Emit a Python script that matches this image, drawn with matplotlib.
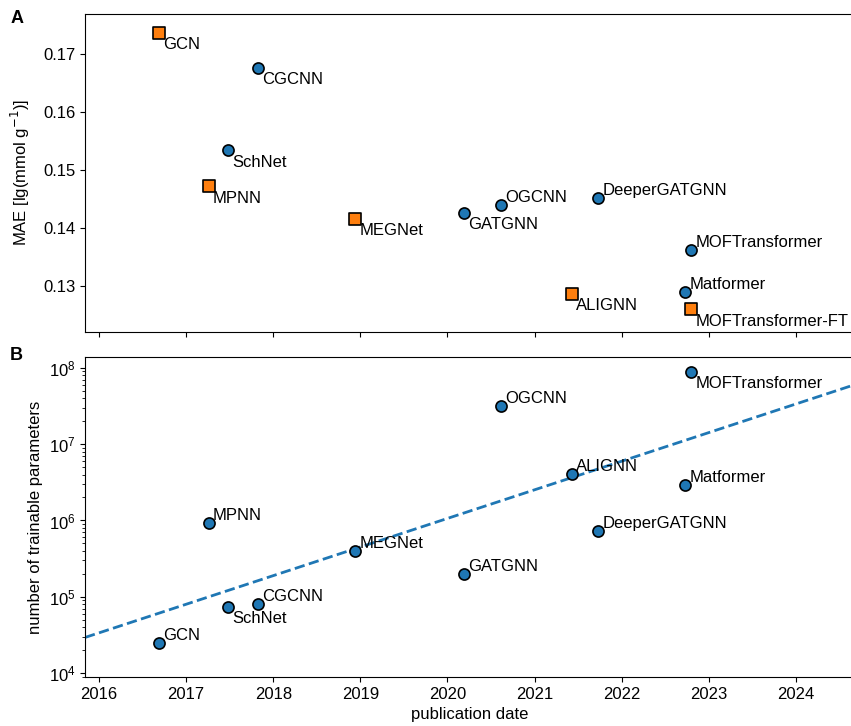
import numpy as np
import matplotlib
matplotlib.use("Agg")
import matplotlib.pyplot as plt

plt.rcParams['font.family'] = ['Liberation Sans', 'DejaVu Sans']
plt.rcParams['font.size'] = 12

##### data
# panel A: MAE vs publication date
mae_names = ["GCN", "CGCNN", "SchNet", "MPNN", "MEGNet", "GATGNN", "OGCNN",
             "DeeperGATGNN", "MOFTransformer", "Matformer", "ALIGNN", "MOFTransformer-FT"]
mae_dates = [2016.69, 2017.82, 2017.48, 2017.26, 2018.94, 2020.19, 2020.61,
             2021.73, 2022.80, 2022.73, 2021.43, 2022.80]
mae_vals = [0.1736, 0.1676, 0.1534, 0.1472, 0.1416, 0.1426, 0.1440,
            0.1452, 0.1362, 0.1290, 0.1286, 0.1260]
mae_square = [True, False, False, True, True, False, False,
              False, False, False, True, True]
mae_below = [True, True, True, True, True, True, False,
             False, False, False, True, True]

# panel B: trainable parameters vs publication date
par_names = ["GCN", "MPNN", "SchNet", "CGCNN", "MEGNet", "GATGNN", "OGCNN",
             "ALIGNN", "DeeperGATGNN", "Matformer", "MOFTransformer"]
par_dates = [2016.69, 2017.26, 2017.48, 2017.82, 2018.94, 2020.19, 2020.61,
             2021.43, 2021.73, 2022.73, 2022.80]
par_vals = [2.47e4, 9.3e5, 7.3e4, 8.0e4, 4.0e5, 1.99e5, 3.2e7,
            4.1e6, 7.3e5, 2.9e6, 8.9e7]
par_below = [False, False, True, False, False, False, False,
             False, False, False, True]

years = [2016, 2017, 2018, 2019, 2020, 2021, 2022, 2023, 2024]
xlim = (2015.84, 2024.68)

blue = "#1f77b4"
orange = "#ff7f0e"


def label_points(ax, xs, ys, names, below):
    for x, y, n, b in zip(xs, ys, names, below):
        if b:
            ax.annotate(n, (x, y), xytext=(3, -3), textcoords="offset points",
                        ha="left", va="top")
        else:
            ax.annotate(n, (x, y), xytext=(3, 0), textcoords="offset points",
                        ha="left", va="bottom")


fig = plt.figure(figsize=(8.51, 7.26), dpi=100)
ax1 = fig.add_axes([0.0999, 0.5427, 0.905, 0.438])
ax2 = fig.add_axes([0.0999, 0.0675, 0.905, 0.4408])

## panel A
sq = np.array(mae_square)
d = np.array(mae_dates)
v = np.array(mae_vals)
ax1.scatter(d[~sq], v[~sq], s=64, marker="o", color=blue, edgecolor="black", linewidth=1.2, zorder=3)
ax1.scatter(d[sq], v[sq], s=64, marker="s", color=orange, edgecolor="black", linewidth=1.2, zorder=3)
label_points(ax1, mae_dates, mae_vals, mae_names, mae_below)
ax1.set_xlim(*xlim)
ax1.set_ylim(0.1221, 0.1769)
ax1.set_xticks(years)
ax1.set_xticklabels([])
ax1.set_yticks([0.13, 0.14, 0.15, 0.16, 0.17])
ax1.set_ylabel("MAE [lg(mmol g$^{-1}$)]", labelpad=8)

## panel B
ax2.scatter(par_dates, par_vals, s=64, marker="o", color=blue, edgecolor="black", linewidth=1.2, zorder=3)
label_points(ax2, par_dates, par_vals, par_names, par_below)

# least squares trend in log space
coef = np.polyfit(par_dates, np.log10(par_vals), 1)
xx = np.array(xlim)
ax2.plot(xx, 10 ** np.polyval(coef, xx), "--", color=blue, linewidth=2, zorder=2)

ax2.set_yscale("log")
ax2.set_xlim(*xlim)
ax2.set_ylim(8.87e3, 1.39e8)
ax2.set_xticks(years)
ax2.set_xticklabels([str(y) for y in years])
ax2.set_ylabel("number of trainable parameters")
ax2.set_xlabel("publication date")

fig.text(0.012, 0.975, "A", fontsize=13, fontweight="bold", va="center")
fig.text(0.012, 0.51, "B", fontsize=13, fontweight="bold", va="center")

fig.savefig("out.png", dpi=100)
